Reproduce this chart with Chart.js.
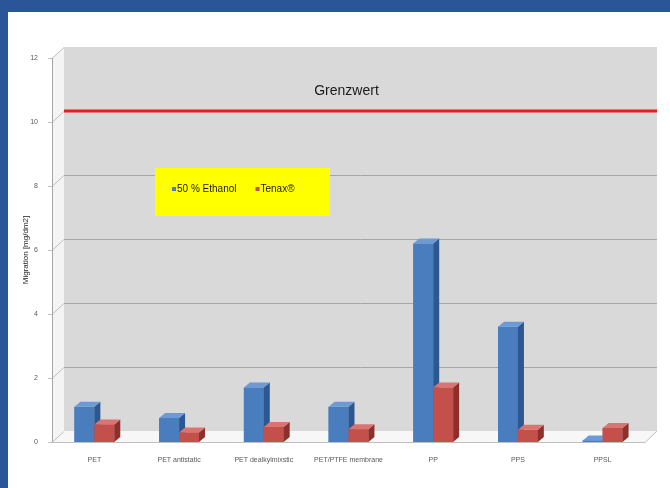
<!DOCTYPE html>
<html>
<head>
<meta charset="utf-8">
<script src="https://cdn.jsdelivr.net/npm/chart.js@4"></script>
<style>
  html, body { margin: 0; padding: 0; background: #fff; }
  #wrap { width: 670px; height: 488px; position: relative; }
</style>
</head>
<body>
<div id="wrap"><canvas id="barChart" width="670" height="488"></canvas></div>
<script>
// data
var materialien = ["PET", "PET antistatic", "PET dealkylmixstic", "PET/PTFE membrane", "PP", "PPS", "PPSL"];
var ethanol = [1.1, 0.75, 1.7, 1.1, 6.2, 3.6, 0.05];
var tenax = [0.55, 0.3, 0.47, 0.4, 1.7, 0.38, 0.44];
var yTicks = [0, 2, 4, 6, 8, 10, 12];
var grenzwert = 10;
var serien = ["50 % Ethanol", "Tenax®"];

// Tiefe für den 3D-Effekt
var wallDx = 12, wallDy = 11;
var barDx = 6, barDy = 5;

var farben = {
  blau: { front: "#4a7dbd", side: "#2c5790", top: "#6d9ad4" },
  rot: { front: "#c4504c", side: "#8e2f2c", top: "#d97470" }
};

function poly(ctx, pts, fill) {
  ctx.beginPath();
  ctx.moveTo(pts[0][0], pts[0][1]);
  for (var i = 1; i < pts.length; i++) ctx.lineTo(pts[i][0], pts[i][1]);
  ctx.closePath();
  ctx.fillStyle = fill;
  ctx.fill();
}

var kulisse = {
  id: "kulisse",
  beforeDraw: function (chart) {
    var ctx = chart.ctx, a = chart.chartArea, y = chart.scales.y;
    ctx.save();
    // blauer Rahmen
    ctx.fillStyle = "#2a5699";
    ctx.fillRect(0, 0, 670, 12);
    ctx.fillRect(0, 0, 8, 488);
    // Rückwand
    ctx.fillStyle = "#d9d9d9";
    ctx.fillRect(a.left + wallDx, a.top - wallDy, a.right - a.left, a.bottom - a.top);
    // linke Seitenwand
    poly(ctx, [[a.left, a.top], [a.left + wallDx, a.top - wallDy], [a.left + wallDx, a.bottom - wallDy], [a.left, a.bottom]], "#f4f4f4");
    // Boden
    poly(ctx, [[a.left, a.bottom], [a.left + wallDx, a.bottom - wallDy], [a.right + wallDx, a.bottom - wallDy], [a.right, a.bottom]], "#f7f7f7");
    ctx.strokeStyle = "#bfbfbf";
    ctx.lineWidth = 1;
    ctx.beginPath();
    ctx.moveTo(a.left, a.bottom + 0.5);
    ctx.lineTo(a.right, a.bottom + 0.5);
    ctx.lineTo(a.right + wallDx, a.bottom - wallDy);
    ctx.stroke();
    // Gitterlinien + Achse
    yTicks.forEach(function (t) {
      var py = Math.round(y.getPixelForValue(t)) + 0.5;
      ctx.strokeStyle = "#a6a6a6";
      if (t > 0 && t < 12) {
        ctx.beginPath();
        ctx.moveTo(a.left + wallDx, py - wallDy);
        ctx.lineTo(a.right + wallDx, py - wallDy);
        ctx.stroke();
      }
      ctx.strokeStyle = "#bfbfbf";
      ctx.beginPath();
      ctx.moveTo(a.left - 4, py);
      ctx.lineTo(a.left, py);
      ctx.lineTo(a.left + wallDx, py - wallDy);
      ctx.stroke();
    });
    ctx.strokeStyle = "#a6a6a6";
    ctx.beginPath();
    ctx.moveTo(a.left + 0.5, a.top);
    ctx.lineTo(a.left + 0.5, a.bottom);
    ctx.stroke();
    // Grenzwert
    var gy = y.getPixelForValue(grenzwert) - wallDy;
    ctx.strokeStyle = "#e8201c";
    ctx.lineWidth = 3;
    ctx.beginPath();
    ctx.moveTo(a.left + wallDx, gy);
    ctx.lineTo(a.right + wallDx, gy);
    ctx.stroke();
    ctx.fillStyle = "#1a1a1a";
    ctx.font = "14px 'Liberation Sans', Arial, sans-serif";
    ctx.textAlign = "center";
    ctx.textBaseline = "middle";
    ctx.fillText("Grenzwert", (a.left + a.right) / 2 - 2, gy - 20);
    ctx.restore();
  },
  // Säulen in 3D neu zeichnen: erst blau, dann rot davor
  afterDatasetsDraw: function (chart) {
    var ctx = chart.ctx;
    ctx.save();
    chart.data.datasets.forEach(function (ds, i) {
      var c = ds.faces;
      chart.getDatasetMeta(i).data.forEach(function (bar) {
        var p = bar.getProps(["x", "y", "base", "width"], true);
        var l = p.x - p.width / 2, r = p.x + p.width / 2;
        ctx.fillStyle = c.front;
        ctx.fillRect(l, p.y, p.width, p.base - p.y);
        poly(ctx, [[r, p.y], [r + barDx, p.y - barDy], [r + barDx, p.base - barDy], [r, p.base]], c.side);
        poly(ctx, [[l, p.y], [l + barDx, p.y - barDy], [r + barDx, p.y - barDy], [r, p.y]], c.top);
      });
    });
    ctx.restore();
  },
  afterDraw: function (chart) {
    var ctx = chart.ctx;
    ctx.save();
    // Legende im gelben Kasten
    ctx.fillStyle = "#ffff00";
    ctx.fillRect(155, 168, 175, 48);
    ctx.font = "10px 'Liberation Sans', Arial, sans-serif";
    ctx.textBaseline = "middle";
    ctx.textAlign = "left";
    var x = 172;
    chart.data.datasets.forEach(function (ds) {
      ctx.fillStyle = ds.backgroundColor;
      ctx.fillRect(x, 187, 4, 4);
      ctx.fillStyle = "#1a1a1a";
      ctx.fillText(ds.label, x + 5, 189.5);
      x += ctx.measureText(ds.label).width + 24;
    });
    ctx.restore();
  }
};

var ctx = document.getElementById("barChart").getContext("2d");
var myBarChart = new Chart(ctx, {
  type: "bar",
  data: {
    labels: materialien,
    datasets: [
      {
        label: serien[0],
        data: ethanol,
        backgroundColor: farben.blau.front,
        faces: farben.blau,
        borderWidth: 0
      },
      {
        label: serien[1],
        data: tenax,
        backgroundColor: farben.rot.front,
        faces: farben.rot,
        borderWidth: 0
      }
    ]
  },
  plugins: [kulisse],
  options: {
    responsive: false,
    animation: false,
    datasets: {
      bar: { categoryPercentage: 0.47, barPercentage: 1.0 }
    },
    layout: {
      padding: { left: 8, right: 25, top: 58, bottom: 14 }
    },
    plugins: {
      legend: { display: false },
      tooltip: { enabled: false }
    },
    scales: {
      x: {
        grid: { display: false, drawTicks: false },
        border: { display: false },
        ticks: {
          color: "#595959",
          padding: 14,
          maxRotation: 0,
          autoSkip: false,
          font: { size: 7, family: "'Liberation Sans', Arial, sans-serif" }
        },
        afterFit: function (scale) { scale.height = 32; }
      },
      y: {
        min: 0,
        max: 12,
        afterBuildTicks: function (scale) {
          scale.ticks = yTicks.map(function (v) { return { value: v }; });
        },
        grid: { display: false, drawTicks: false },
        border: { display: false },
        ticks: {
          color: "#595959",
          padding: 14,
          font: { size: 7, family: "'Liberation Sans', Arial, sans-serif" }
        },
        title: {
          display: true,
          text: "Migration [mg/dm2]",
          color: "#1a1a1a",
          padding: { top: 13, bottom: 0 },
          font: { size: 8, family: "'Liberation Sans', Arial, sans-serif" }
        },
        afterFit: function (scale) { scale.width = 44; }
      }
    }
  }
});
</script>
</body>
</html>
